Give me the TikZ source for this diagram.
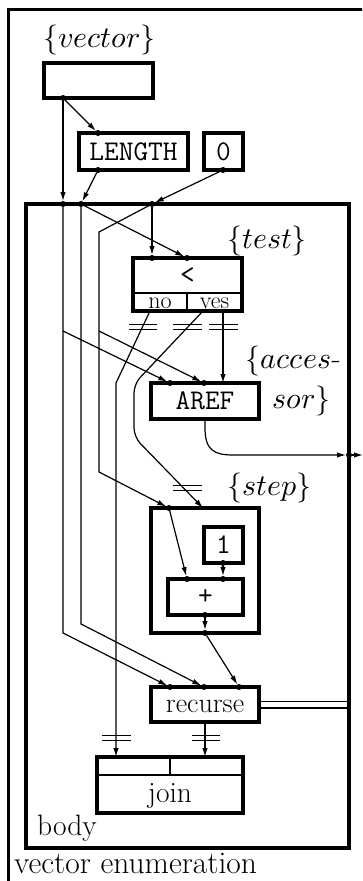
\documentclass[tikz,border=0pt]{standalone}
\usepackage{fontspec}
\usepackage{unicode-math}
\setmathfont{Latin Modern Math}
\usetikzlibrary{arrows.meta}
\newcommand{\dbar}[3]{\draw[barline] (#1,#2-2.4) -- (#3,#2-2.4) (#1,#2+2.4) -- (#3,#2+2.4);}
\begin{document}
\begin{tikzpicture}[x=1pt,y=-1pt,
  box/.style={draw,line width=3.3pt,inner sep=0pt,outer sep=0pt},
  wire/.style={line width=1.2pt},
  arr/.style={wire,-{Latex[length=9pt,width=5.4pt]}},
  dot/.style={circle,fill,inner sep=0pt,outer sep=0pt,minimum size=6pt},
  rm/.style={font=\fontsize{29.5}{34}\selectfont,inner sep=0pt},
  sm/.style={font=\fontsize{24}{28}\selectfont,inner sep=0pt},
  tt/.style={font=\fontsize{28.5}{34}\selectfont\ttfamily,inner sep=0pt},
  mth/.style={font=\fontsize{30}{36}\selectfont,inner sep=0pt},
  barline/.style={line width=1.4pt},
  divider/.style={line width=2.4pt}]

\useasboundingbox (0,0) rectangle (362,881);
\clip (0,0) rectangle (362,881);

% outer frame
\draw[line width=3pt] (8,895) -- (8,9) -- (380,9);
\node[rm,anchor=base west] (tenum) at (14,873) {\fontsize{31.5}{36}\selectfont vector enumeration};

% body
\node[box,minimum width=323pt,minimum height=644pt] (body) at (187.5,526) {};
\node[rm,anchor=base west] (tbody) at (37,835) {body};

% boxes
\node[box,minimum width=109pt,minimum height=35pt] (vec) at (98.5,80.5) {};
\node[mth,anchor=base west] (tvec) at (43,47) {$\{vector\}$};
\node[box,tt,minimum width=109pt,minimum height=37pt] (len) at (133.5,151.5) {LENGTH};
\node[box,tt,minimum width=39pt,minimum height=37pt] (zero) at (223.5,151.5) {0};

\node[box,minimum width=109pt,minimum height=53pt] (test) at (187.5,284.5) {};
\draw[divider] (133,293) -- (242,293) (187,293) -- (187,311);
\node[tt] (tlt) at (187.5,276) {<};
\node[sm,anchor=base] (tno) at (160,308) {no};
\node[sm,anchor=base] (tyes) at (214.5,308) {yes};
\node[mth,anchor=base west] (ttest) at (227,248) {$\{test\}$};

\node[box,tt,minimum width=108pt,minimum height=36pt] (aref) at (205,401) {AREF};
\node[mth,anchor=base west] (tacc1) at (245,368) {$\{acces$-};
\node[mth,anchor=base west] (tacc2) at (272,408) {$sor\}$};

\node[box,minimum width=108pt,minimum height=125pt] (step) at (205,570.5) {};
\node[mth,anchor=base west] (tstep) at (227,495) {$\{step\}$};
\node[box,tt,minimum width=39pt,minimum height=36pt] (one) at (223.5,545) {1};
\node[box,tt,minimum width=75pt,minimum height=36pt] (plus) at (205.5,597) {+};

\node[box,minimum width=108pt,minimum height=35pt] (rec) at (205,704.5) {};
\node[rm,anchor=base] (trec) at (205,712) {\fontsize{28}{34}\selectfont recurse};

\node[box,minimum width=146pt,minimum height=56pt] (join) at (170,785) {};
\draw[divider] (97,775) -- (243,775) (170,757) -- (170,775);
\node[rm,anchor=base] (tjoin) at (170,802) {join};

% ports with dots
\node[dot] (vecO) at (63,98) {};
\node[dot] (lenI) at (98,133) {};
\node[dot] (lenO) at (98,170) {};
\node[dot] (zeroO) at (223,170) {};
\node[dot] (bA) at (63,204) {};
\node[dot] (bB) at (81,204) {};
\node[dot] (bC) at (152,204) {};
\node[dot] (tI1) at (152,258) {};
\node[dot] (tI2) at (187,258) {};
\node[dot] (aI1) at (170,383) {};
\node[dot] (aI2) at (204,383) {};
\node[dot] (sI) at (169,508) {};
\node[dot] (oneO) at (223,563) {};
\node[dot] (p1) at (187,579) {};
\node[dot] (p2) at (223,579) {};
\node[dot] (pO) at (205,615) {};
\node[dot] (sO) at (205,633) {};
\node[dot] (r1) at (170,687) {};
\node[dot] (r2) at (204,687) {};
\node[dot] (r3) at (239,687) {};
\node[dot] (outR) at (349,455) {};

% ports without dots
\coordinate (noO) at (150,311);
\coordinate (yesO) at (203,311);
\coordinate (yes2O) at (223,311);
\coordinate (aI3) at (223,383);
\coordinate (sI2) at (203,508);
\coordinate (aO) at (205,419);
\coordinate (rO) at (205,722);
\coordinate (jI1) at (116,757);
\coordinate (jI2) at (205,757);
\coordinate (brA) at (63,331);
\coordinate (brC) at (99,331);
\coordinate (outEnd) at (363,455);

% connectors
\draw[arr] (vecO) -- (lenI);
\draw[arr] (vecO) -- (bA);
\draw[arr] (lenO) -- (bB);
\draw[arr] (zeroO) -- (bC);
\draw[arr] (bC) -- (tI1);
\draw[arr] (bB) -- (tI2);
\draw[arr] (bC) -- (99,232) -- (99,472) -- (sI);
\draw[arr] (bA) -- (63,633) -- (r1);
\draw[arr] (bB) -- (81,624) -- (r2);
\draw[arr] (brA) -- (aI1);
\draw[arr] (brC) -- (aI2);
\draw[arr] (noO) -- (116,383) -- (jI1);
\draw[arr,rounded corners=9pt] (yesO) -- (134,384) -- (134,437) -- (sI2);
\draw[arr] (yes2O) -- (aI3);
\draw[arr] (aO) -- (205,428) .. controls (205,450) and (214,455) .. (233,455) -- (outR);
\draw[arr] (outR) -- (outEnd);
\draw[arr] (sI) -- (p1);
\draw[arr] (oneO) -- (p2);
\draw[arr] (pO) -- (sO);
\draw[arr] (sO) -- (r3);
\draw[arr] (rO) -- (jI2);
\draw[wire,line width=1.5pt] (rec.east |- 0,701.5) -- (body.east |- 0,701.5)
  (rec.east |- 0,708) -- (body.east |- 0,708);

% double bars
\dbar{129}{327}{157}
\dbar{173}{327}{202}
\dbar{209}{327}{238}
\dbar{173}{488}{202}
\dbar{102}{738}{131}
\dbar{192}{738}{220}
\end{tikzpicture}
\end{document}
